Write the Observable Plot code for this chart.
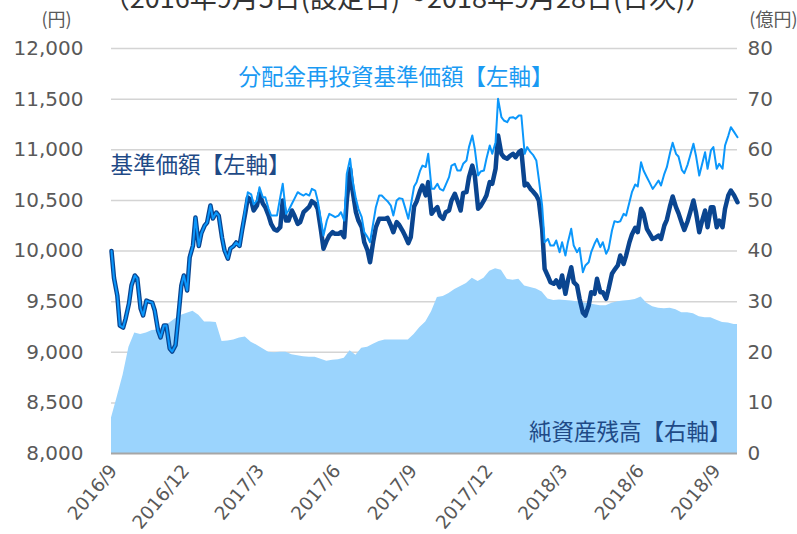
<!DOCTYPE html>
<html><head><meta charset="utf-8">
<script src="https://cdn.jsdelivr.net/npm/d3@7"></script>
<script src="https://cdn.jsdelivr.net/npm/@observablehq/plot@0.6"></script>
<style>body{margin:0;background:#fff;overflow:hidden}</style>
</head><body><div id="chart"></div>
<script>
// Line dates (Mon/Thu sampling, 2016-09-05 set-up date to 2018-09-28)
const lineDates = [
"2016-09-05","2016-09-08","2016-09-12","2016-09-15","2016-09-19","2016-09-22","2016-09-26","2016-09-29","2016-10-03","2016-10-06","2016-10-10","2016-10-13","2016-10-17","2016-10-20","2016-10-24","2016-10-27","2016-10-31","2016-11-03","2016-11-07","2016-11-10",
"2016-11-14","2016-11-17","2016-11-21","2016-11-24","2016-11-28","2016-12-01","2016-12-05","2016-12-08","2016-12-12","2016-12-15","2016-12-19","2016-12-22","2016-12-26","2016-12-29","2017-01-02","2017-01-05","2017-01-09","2017-01-12","2017-01-16","2017-01-19",
"2017-01-23","2017-01-26","2017-01-30","2017-02-02","2017-02-06","2017-02-09","2017-02-13","2017-02-16","2017-02-20","2017-02-23","2017-02-27","2017-03-02","2017-03-06","2017-03-09","2017-03-13","2017-03-16","2017-03-20","2017-03-23","2017-03-27","2017-03-30",
"2017-04-03","2017-04-06","2017-04-10","2017-04-13","2017-04-17","2017-04-20","2017-04-24","2017-04-27","2017-05-01","2017-05-04","2017-05-08","2017-05-11","2017-05-15","2017-05-18","2017-05-22","2017-05-25","2017-05-29","2017-06-01","2017-06-05","2017-06-08",
"2017-06-12","2017-06-15","2017-06-19","2017-06-22","2017-06-26","2017-06-29","2017-07-03","2017-07-06","2017-07-10","2017-07-13","2017-07-17","2017-07-20","2017-07-24","2017-07-27","2017-07-31","2017-08-03","2017-08-07","2017-08-10","2017-08-14","2017-08-17",
"2017-08-21","2017-08-24","2017-08-28","2017-08-31","2017-09-04","2017-09-07","2017-09-11","2017-09-14","2017-09-18","2017-09-21","2017-09-25","2017-09-28","2017-10-02","2017-10-05","2017-10-09","2017-10-12","2017-10-16","2017-10-19","2017-10-23","2017-10-26",
"2017-10-30","2017-11-02","2017-11-06","2017-11-09","2017-11-13","2017-11-16","2017-11-20","2017-11-23","2017-11-27","2017-11-30","2017-12-04","2017-12-07","2017-12-11","2017-12-14","2017-12-18","2017-12-21","2017-12-25","2017-12-28","2018-01-01","2018-01-04",
"2018-01-08","2018-01-11","2018-01-15","2018-01-18","2018-01-22","2018-01-25","2018-01-29","2018-02-01","2018-02-05","2018-02-08","2018-02-12","2018-02-15","2018-02-19","2018-02-22","2018-02-26","2018-03-01","2018-03-05","2018-03-08","2018-03-12","2018-03-15",
"2018-03-19","2018-03-22","2018-03-26","2018-03-29","2018-04-02","2018-04-05","2018-04-09","2018-04-12","2018-04-16","2018-04-19","2018-04-23","2018-04-26","2018-04-30","2018-05-03","2018-05-07","2018-05-10","2018-05-14","2018-05-17","2018-05-21","2018-05-24",
"2018-05-28","2018-05-31","2018-06-04","2018-06-07","2018-06-11","2018-06-14","2018-06-18","2018-06-21","2018-06-25","2018-06-28","2018-07-02","2018-07-05","2018-07-09","2018-07-12","2018-07-16","2018-07-19","2018-07-23","2018-07-26","2018-07-30","2018-08-02",
"2018-08-06","2018-08-09","2018-08-13","2018-08-16","2018-08-20","2018-08-23","2018-08-27","2018-08-30","2018-09-03","2018-09-06","2018-09-10","2018-09-13","2018-09-17","2018-09-20","2018-09-24","2018-09-28"];

// 基準価額 (円)
const nav = [
10000,9733,9560,9264,9244,9333,9481,9659,9758,9728,9432,9363,9510,9500,9490,9412,9215,9146,9264,9264,
9037,9007,9070,9313,9659,9758,9610,9936,10054,10331,10050,10173,10250,10281,10450,10321,10380,10350,10130,10005,
9925,10025,10050,10084,10050,10202,10380,10528,10500,10400,10450,10568,10470,10433,10350,10268,10212,10202,10235,10499,
10301,10301,10400,10350,10268,10285,10383,10407,10439,10492,10466,10417,10202,10022,10104,10153,10186,10170,10170,10186,
10137,10499,10812,10597,10383,10301,10235,10087,10005,9889,10104,10235,10318,10318,10318,10328,10252,10186,10285,10259,
10202,10153,10077,10137,10439,10489,10591,10647,10550,10680,10367,10400,10433,10350,10318,10383,10400,10499,10565,10499,
10400,10574,10581,10729,10844,10746,10417,10443,10499,10548,10680,10664,10812,11141,10960,10927,10911,10937,10960,10927,
10976,10993,10647,10664,10614,10588,10548,10499,10219,9824,9751,9692,9676,9709,9643,9758,9577,9709,9840,9692,
9659,9528,9390,9363,9462,9593,9577,9725,9593,9593,9528,9627,9775,9814,9857,9955,9873,9955,10087,10163,
10229,10186,10417,10367,10219,10176,10120,10130,10153,10120,10252,10308,10449,10538,10433,10374,10275,10209,10294,10380,
10499,10383,10186,10285,10400,10235,10433,10433,10235,10301,10235,10417,10550,10597,10548,10482];

// 分配金再投資基準価額 (円)
const navReinvested = [
10000,9733,9560,9264,9244,9333,9481,9659,9758,9728,9432,9363,9510,9500,9490,9412,9215,9146,9264,9264,
9037,9007,9070,9313,9659,9758,9610,9936,10054,10331,10050,10173,10250,10281,10450,10321,10380,10350,10130,10005,
9925,10025,10050,10084,10050,10202,10420,10580,10560,10460,10500,10630,10531,10531,10417,10350,10350,10350,10531,10664,
10367,10400,10466,10515,10581,10565,10548,10565,10548,10614,10597,10499,10301,10153,10301,10367,10350,10334,10350,10383,
10301,10762,10911,10696,10515,10417,10334,10186,10137,10087,10285,10433,10548,10548,10515,10492,10449,10350,10499,10522,
10515,10433,10318,10449,10637,10680,10788,10844,10830,10960,10614,10614,10664,10614,10597,10654,10729,10844,10861,10795,
10795,10861,10894,11026,11141,11009,10746,10785,10795,10911,11042,10960,11075,11503,11322,11289,11272,11316,11322,11306,
11338,11338,10960,11026,10976,10950,10894,10713,10449,10087,10120,10054,10054,10104,9988,10087,9955,10087,10219,10054,
9988,10030,9791,9857,9889,9988,10071,10120,10038,10087,9972,10022,10202,10294,10285,10294,10367,10350,10482,10581,
10657,10637,10877,10795,10729,10680,10614,10647,10696,10647,10762,10828,10976,11069,10960,10933,10802,10768,10854,10940,
11059,10944,10746,10844,10976,10812,10993,11026,10812,10861,10812,11042,11140,11223,11174,11124];

// 純資産残高 (億円), weekly
const areaDates = [
"2016-09-05","2016-09-12","2016-09-19","2016-09-26","2016-10-03","2016-10-10","2016-10-17","2016-10-24","2016-10-31","2016-11-07",
"2016-11-14","2016-11-21","2016-11-28","2016-12-05","2016-12-12","2016-12-19","2016-12-26","2017-01-02","2017-01-09","2017-01-16",
"2017-01-23","2017-01-30","2017-02-06","2017-02-13","2017-02-20","2017-02-27","2017-03-06","2017-03-13","2017-03-20","2017-03-27",
"2017-04-03","2017-04-10","2017-04-17","2017-04-24","2017-05-01","2017-05-08","2017-05-15","2017-05-22","2017-05-29","2017-06-05",
"2017-06-12","2017-06-19","2017-06-26","2017-07-03","2017-07-10","2017-07-17","2017-07-24","2017-07-31","2017-08-07","2017-08-14",
"2017-08-21","2017-08-28","2017-09-04","2017-09-11","2017-09-18","2017-09-25","2017-10-02","2017-10-09","2017-10-16","2017-10-23",
"2017-10-30","2017-11-06","2017-11-13","2017-11-20","2017-11-27","2017-12-04","2017-12-11","2017-12-18","2017-12-25","2018-01-01",
"2018-01-08","2018-01-15","2018-01-22","2018-01-29","2018-02-05","2018-02-12","2018-02-19","2018-02-26","2018-03-05","2018-03-12",
"2018-03-19","2018-03-26","2018-04-02","2018-04-09","2018-04-16","2018-04-23","2018-04-30","2018-05-07","2018-05-14","2018-05-21",
"2018-05-28","2018-06-04","2018-06-11","2018-06-18","2018-06-25","2018-07-02","2018-07-09","2018-07-16","2018-07-23","2018-07-30",
"2018-08-06","2018-08-13","2018-08-20","2018-08-27","2018-09-03","2018-09-10","2018-09-17","2018-09-24","2018-09-28"];
const netAssets = [
7.0,11.2,15.5,21.0,23.8,23.5,23.8,24.3,24.4,25.1,
25.8,26.6,27.3,27.7,28.1,27.3,26.0,26.0,25.9,22.1,
22.2,22.4,22.8,23.0,22.0,21.4,20.7,20.0,19.9,20.0,
20.0,19.5,19.3,19.1,19.0,19.0,18.6,18.2,18.4,18.5,
18.8,20.3,19.4,20.8,21.0,21.6,22.1,22.4,22.4,22.4,
22.4,22.4,23.5,24.9,26.0,28.0,30.8,31.0,31.6,32.4,
33.0,33.6,34.6,34.0,34.6,36.0,36.5,36.2,34.4,34.2,
34.4,33.1,32.8,32.5,31.9,30.5,30.2,30.3,30.2,30.1,
30.0,29.8,29.6,29.4,29.2,29.2,29.7,30.0,30.1,30.2,
30.4,30.9,29.7,29.0,28.7,28.6,28.7,28.4,27.8,27.8,
27.6,27.0,26.8,26.8,26.3,25.9,25.8,25.5,25.5];

const yTicks = [8000,8500,9000,9500,10000,10500,11000,11500,12000];     // 円
const y2Ticks = [0,10,20,30,40,50,60,70,80];                             // 億円
const xTickDates = ["2016-09-05","2016-12-01","2017-03-01","2017-06-01","2017-09-01","2017-12-01","2018-03-01","2018-06-01","2018-09-01"];
const xTickLabels = ["2016/9","2016/12","2017/3","2017/6","2017/9","2017/12","2018/3","2018/6","2018/9"];

const titleText = "（2016年9月5日(設定日)～2018年9月28日(日次)）";
const labelReinv = "分配金再投資基準価額【左軸】";
const labelNav = "基準価額【左軸】";
const labelAum = "純資産残高【右軸】";

const Y0 = 8000, K = 50; // 右軸 0–80 億円 → 左軸 8000–12000 円
const lines = lineDates.map((d, i) => ({date: new Date(d), nav: nav[i], navR: navReinvested[i]}));
const area = areaDates.map((d, i) => ({date: new Date(d), aum: netAssets[i]}));
const ticks = xTickDates.map((d, i) => ({date: new Date(d), label: xTickLabels[i]}));

const JP = "'Noto Sans CJK JP', sans-serif";
const DARK = "#0a4590", LIGHT = "#0b97fb", AREA = "#9bd4fd";

const chart = Plot.plot({
  width: 797, height: 534,
  marginLeft: 111, marginRight: 60, marginTop: 48, marginBottom: 81,
  style: {fontFamily: "'DejaVu Sans', sans-serif", color: "#595959", background: "#fff"},
  x: {type: "utc", domain: [new Date("2016-09-05"), new Date("2018-09-28")], axis: null},
  y: {domain: [8000, 12000]},
  marks: [
    Plot.ruleY(yTicks.filter(t => t > 8000), {stroke: "#d4d4d4", strokeWidth: 1.5}),
    Plot.areaY(area, {x: "date", y1: Y0, y2: d => Y0 + d.aum * K, fill: AREA}),
    Plot.ruleY([8000], {stroke: "#a6a6a6", strokeWidth: 2}),
    Plot.lineY(lines, {x: "date", y: "nav", stroke: DARK, strokeWidth: 4.5, strokeLinejoin: "round"}),
    Plot.lineY(lines, {x: "date", y: "navR", stroke: LIGHT, strokeWidth: 2, strokeLinejoin: "round"}),
    Plot.axisY({anchor: "left", ticks: yTicks, tickFormat: d3.format(","), tickSize: 0, tickPadding: 28, fontSize: 20, label: null}),
    Plot.axisY({anchor: "right", ticks: yTicks, tickFormat: (d) => String(y2Ticks[yTicks.indexOf(d)]), tickSize: 0, tickPadding: 10, fontSize: 20, label: null}),
    Plot.text(ticks, {x: "date", text: "label", frameAnchor: "bottom", rotate: -50, textAnchor: "end", lineAnchor: "middle", dx: 2, dy: 14, fontSize: 18.5, fill: "#595959"}),
    Plot.text([titleText], {frameAnchor: "top", lineAnchor: "middle", dx: -17, dy: -49, fontSize: 27, fill: "#333", fontFamily: JP}),
    Plot.text(["(円)"], {frameAnchor: "top-left", lineAnchor: "middle", dx: -70, dy: -28, fontSize: 18, fill: "#595959", fontFamily: JP}),
    Plot.text(["(億円)"], {frameAnchor: "top-right", lineAnchor: "middle", dx: 60, dy: -28, textAnchor: "end", fontSize: 18, fill: "#595959", fontFamily: JP}),
    Plot.text([labelReinv], {frameAnchor: "top-left", lineAnchor: "middle", dx: 127, dy: 29, textAnchor: "start", fontSize: 22.5, fill: "#1a9af3", fontFamily: JP}),
    Plot.text([labelNav], {frameAnchor: "top-left", lineAnchor: "middle", dx: -1, dy: 117, textAnchor: "start", fontSize: 22.5, fill: "#1f4a86", fontFamily: JP}),
    Plot.text([labelAum], {frameAnchor: "bottom-right", lineAnchor: "middle", dx: -6, dy: -21, textAnchor: "end", fontSize: 22.5, fill: "#1f4a86", fontFamily: JP})
  ]
});
document.getElementById("chart").appendChild(chart);
</script>
</body></html>
